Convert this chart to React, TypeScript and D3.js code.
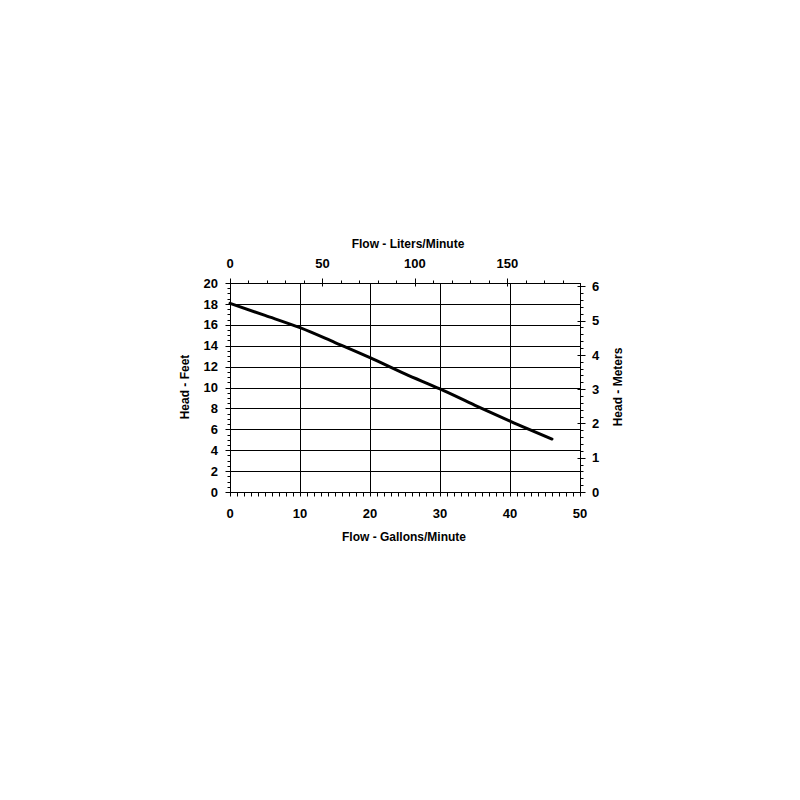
import React from "react";
import * as d3 from "d3";

const flowGpm = [0, 5, 10, 15, 20, 25, 30, 35, 40, 46];
const headFt = [18.05, 16.9, 15.72, 14.3, 12.85, 11.3, 9.86, 8.3, 6.79, 5.07];
const gpmTicks = [0, 10, 20, 30, 40, 50];
const literTicks = [0, 50, 100, 150];
const feetTicks = [0, 2, 4, 6, 8, 10, 12, 14, 16, 18, 20];
const meterTicks = [0, 1, 2, 3, 4, 5, 6];

const L_PER_GAL = 3.785;
const FT_PER_M = 3.2808;

export default function App() {
  const left = 230, right = 580, top = 283, bottom = 492;
  const x = d3.scaleLinear().domain([0, 50]).range([left, right]);
  const y = d3.scaleLinear().domain([0, 20]).range([bottom, top]);
  const xL = d3.scaleLinear().domain([0, 50 * L_PER_GAL]).range([left, right]);
  const yM = d3.scaleLinear().domain([0, 20 / FT_PER_M]).range([bottom, top]);

  const line = d3
    .line<number>()
    .x((_, i) => x(flowGpm[i]))
    .y((d) => y(d))
    .curve(d3.curveMonotoneX);

  const font = "'Liberation Sans', Arial, sans-serif";
  const p = (v: number) => Math.round(v) + 0.5;

  const minorFeet = d3.range(0, 20.001, 0.5);
  const minorGpm = d3.range(0, 50.001, 1);
  const minorL = d3.range(0, 50 * L_PER_GAL, 10);
  const minorM = d3.range(0, 20 / FT_PER_M, 0.2);

  return (
    <svg
      width={800}
      height={800}
      style={{ position: "absolute", left: 0, top: 0, background: "#fff" }}
      fontFamily={font}
      fontWeight="bold"
    >
      {/* horizontal grid */}
      {feetTicks.slice(1, -1).map((t) => (
        <line key={"hg" + t} x1={left} x2={right} y1={p(y(t))} y2={p(y(t))} stroke="#000" strokeWidth={1} />
      ))}
      {/* vertical grid */}
      {gpmTicks.slice(1, -1).map((t) => (
        <line key={"vg" + t} x1={p(x(t))} x2={p(x(t))} y1={top} y2={bottom} stroke="#000" strokeWidth={1} />
      ))}
      {/* axis lines */}
      <line x1={left} x2={right} y1={p(top)} y2={p(top)} stroke="#000" />
      <line x1={left} x2={right} y1={p(bottom)} y2={p(bottom)} stroke="#000" />
      <line x1={p(left)} x2={p(left)} y1={top} y2={bottom} stroke="#000" />
      <line x1={p(right)} x2={p(right)} y1={top} y2={bottom} stroke="#000" />

      {/* left minor/major ticks */}
      {minorFeet.map((t) => {
        const major = Math.abs(t % 2) < 1e-6;
        return (
          <line key={"lt" + t} x1={p(left) - (major ? 5 : 3)} x2={p(left)} y1={p(y(t))} y2={p(y(t))} stroke="#000" />
        );
      })}
      {/* bottom ticks */}
      {minorGpm.map((t) => (
        <line key={"bt" + t} x1={p(x(t))} x2={p(x(t))} y1={p(bottom)} y2={p(bottom) + 4} stroke="#000" />
      ))}
      {/* top ticks */}
      {minorL.map((t) => {
        const major = Math.abs(t % 50) < 1e-6;
        return (
          <line key={"tt" + t} x1={p(xL(t))} x2={p(xL(t))} y1={p(top) - (major ? 5 : 3)} y2={p(top) + (major ? 3 : 0)} stroke="#000" />
        );
      })}
      {/* right ticks */}
      {minorM.map((t) => {
        const major = Math.abs(t - Math.round(t)) < 1e-6;
        return (
          <line key={"rt" + t} x1={p(right) - (major ? 3 : 0)} x2={p(right) + (major ? 5 : 3)} y1={p(yM(t))} y2={p(yM(t))} stroke="#000" />
        );
      })}

      {/* curve */}
      <path d={line(headFt) || ""} fill="none" stroke="#000" strokeWidth={3} strokeLinecap="round" />

      {/* tick labels */}
      {feetTicks.map((t) => (
        <text key={"fl" + t} x={218} y={y(t)} dy="0.36em" textAnchor="end" fontSize={13}>
          {t}
        </text>
      ))}
      {meterTicks.map((t) => (
        <text key={"ml" + t} x={592} y={yM(t)} dy="0.36em" textAnchor="start" fontSize={13}>
          {t}
        </text>
      ))}
      {gpmTicks.map((t) => (
        <text key={"gl" + t} x={x(t)} y={518} textAnchor="middle" fontSize={13}>
          {t}
        </text>
      ))}
      {literTicks.map((t) => (
        <text key={"ll" + t} x={xL(t)} y={268} textAnchor="middle" fontSize={13}>
          {t}
        </text>
      ))}

      {/* axis titles */}
      <text x={408} y={248} textAnchor="middle" fontSize={12}>
        Flow - Liters/Minute
      </text>
      <text x={404} y={541} textAnchor="middle" fontSize={12}>
        Flow - Gallons/Minute
      </text>
      <text transform="translate(189,387) rotate(-90)" textAnchor="middle" fontSize={12}>
        Head - Feet
      </text>
      <text transform="translate(622,387) rotate(-90)" textAnchor="middle" fontSize={12}>
        Head - Meters
      </text>
    </svg>
  );
}
